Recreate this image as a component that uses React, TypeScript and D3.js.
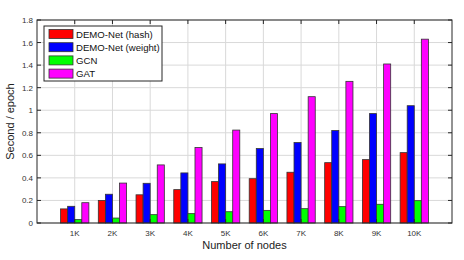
import * as d3 from "d3";
import { useEffect, useRef } from "react";

const categories = ["1K", "2K", "3K", "4K", "5K", "6K", "7K", "8K", "9K", "10K"];
const seriesNames = ["DEMO-Net (hash)", "DEMO-Net (weight)", "GCN", "GAT"];
const hashValues = [0.125, 0.2, 0.25, 0.296, 0.367, 0.393, 0.45, 0.535, 0.562, 0.624];
const weightValues = [0.148, 0.255, 0.352, 0.444, 0.524, 0.66, 0.713, 0.82, 0.97, 1.04];
const gcnValues = [0.03, 0.044, 0.074, 0.083, 0.1, 0.112, 0.127, 0.145, 0.166, 0.198];
const gatValues = [0.18, 0.354, 0.515, 0.67, 0.824, 0.97, 1.12, 1.256, 1.41, 1.63];
const yTicks = [0, 0.2, 0.4, 0.6, 0.8, 1, 1.2, 1.4, 1.6, 1.8];
const colors = ["#ff0000", "#0000ff", "#00ff00", "#ff00ff"];

function App() {
  const ref = useRef<SVGSVGElement>(null);
  const width = 464;
  const height = 260;
  const m = { left: 37, right: 12, top: 20, bottom: 37 };

  useEffect(() => {
    const svg = d3.select(ref.current);
    svg.selectAll("*").remove();
    const font = "'Liberation Sans', Arial, Helvetica, sans-serif";
    const axisColor = "#262626";

    const x = d3.scaleLinear().domain([0, 11]).range([m.left, width - m.right]);
    const y = d3.scaleLinear().domain([0, 1.8]).range([height - m.bottom, m.top]);
    const x0 = x(0), x1 = x(11), y0 = y(0), y1 = y(1.8);

    // grid
    const grid = svg.append("g").attr("stroke", "#d9d9d9").attr("stroke-width", 1);
    categories.forEach((_, i) => {
      grid.append("line").attr("x1", x(i + 1)).attr("x2", x(i + 1)).attr("y1", y0).attr("y2", y1);
    });
    yTicks.forEach((t) => {
      grid.append("line").attr("x1", x0).attr("x2", x1).attr("y1", y(t)).attr("y2", y(t));
    });

    // bars
    const series = [hashValues, weightValues, gcnValues, gatValues];
    const step = x(1) - x(0);
    const bw = (step * 0.75) / 4;
    series.forEach((vals, s) => {
      svg
        .append("g")
        .selectAll("rect")
        .data(vals)
        .join("rect")
        .attr("x", (_, i) => x(i + 1) + (s - 2) * bw)
        .attr("y", (d) => y(d))
        .attr("width", bw)
        .attr("height", (d) => y0 - y(d))
        .attr("fill", colors[s])
        .attr("stroke", "#333")
        .attr("stroke-width", 0.8);
    });

    // box and ticks
    const ax = svg.append("g").attr("stroke", axisColor).attr("stroke-width", 1).attr("fill", "none");
    ax.append("rect").attr("x", x0).attr("y", y1).attr("width", x1 - x0).attr("height", y0 - y1);
    const tl = 4;
    categories.forEach((_, i) => {
      const px = x(i + 1);
      ax.append("line").attr("x1", px).attr("x2", px).attr("y1", y0).attr("y2", y0 - tl);
      ax.append("line").attr("x1", px).attr("x2", px).attr("y1", y1).attr("y2", y1 + tl);
    });
    yTicks.forEach((t) => {
      ax.append("line").attr("x1", x0).attr("x2", x0 + tl).attr("y1", y(t)).attr("y2", y(t));
      ax.append("line").attr("x1", x1).attr("x2", x1 - tl).attr("y1", y(t)).attr("y2", y(t));
    });

    // tick labels
    const lab = svg.append("g").attr("font-family", font).attr("font-size", 8).attr("fill", "#333");
    categories.forEach((c, i) => {
      lab.append("text").attr("x", x(i + 1)).attr("y", y0 + 13).attr("text-anchor", "middle").text(c);
    });
    yTicks.forEach((t) => {
      lab.append("text").attr("x", x0 - 4).attr("y", y(t) + 3).attr("text-anchor", "end").text(d3.format("~g")(t));
    });

    // axis titles
    svg.append("text").attr("x", (x0 + x1) / 2).attr("y", 249).attr("text-anchor", "middle")
      .attr("font-family", font).attr("font-size", 11).attr("fill", "#222").text("Number of nodes");
    svg.append("text").attr("transform", `translate(14, ${(y0 + y1) / 2}) rotate(-90)`)
      .attr("text-anchor", "middle").attr("font-family", font).attr("font-size", 11).attr("fill", "#222")
      .text("Second / epoch");

    // legend
    const lg = svg.append("g").attr("transform", "translate(44, 26)");
    lg.append("rect").attr("width", 118).attr("height", 55).attr("fill", "#fff").attr("stroke", axisColor).attr("stroke-width", 1);
    seriesNames.forEach((n, i) => {
      const cy = 8 + i * 13.2;
      lg.append("rect").attr("x", 5).attr("y", cy - 4.5).attr("width", 24).attr("height", 9)
        .attr("fill", colors[i]).attr("stroke", "#333").attr("stroke-width", 0.8);
      lg.append("text").attr("x", 32).attr("y", cy + 3.5).attr("font-family", font).attr("font-size", 9.6)
        .attr("fill", "#111").text(n);
    });
  }, []);

  return (
    <svg
      ref={ref}
      width={width}
      height={height}
      style={{ position: "absolute", left: 0, top: 0, background: "#fff" }}
    />
  );
}

export default App;
